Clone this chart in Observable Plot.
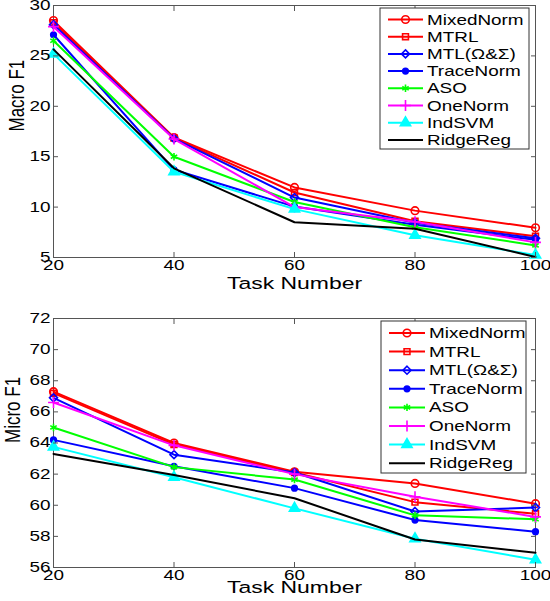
<!DOCTYPE html>
<html><head><meta charset="utf-8">
<script src="https://cdn.jsdelivr.net/npm/d3@7"></script>
<script src="https://cdn.jsdelivr.net/npm/@observablehq/plot@0.6"></script>
<style>
body{margin:0;background:#fff;}
#chart svg{display:block;}
</style></head>
<body><div id="chart"></div>
<script>
// ---- data ----
const tasks = [20, 40, 60, 80, 100];
const seriesNames = ["MixedNorm", "MTRL", "MTL(\u03A9&\u03A3)", "TraceNorm", "ASO", "OneNorm", "IndSVM", "RidgeReg"];
const seriesColors = ["#ff0000", "#ff0000", "#0000ff", "#0000ff", "#00ff00", "#ff00ff", "#00ffff", "#000000"];
const seriesSymbols = ["circle", "square", "diamond2", "circle", "asterisk", "plus", "triangle", null];
const seriesFilled = [false, false, false, true, false, false, true, false];
const seriesRadius = [3.8, 3.3, 3.6, 2.8, 3.5, 3.6, 3.8, 0];

// Macro F1
const macroMixedNorm = [28.5, 16.9, 11.95, 9.65, 7.95];
const macroMTRL      = [28.3, 16.85, 11.45, 8.6, 7.1];
const macroMTL       = [28.1, 16.8, 10.95, 8.45, 6.9];
const macroTraceNorm = [27.1, 13.7, 10.05, 8.25, 6.75];
const macroASO       = [26.5, 15.0, 10.5, 8.0, 6.2];
const macroOneNorm   = [27.9, 16.75, 10.0, 8.55, 6.5];
const macroIndSVM    = [25.2, 13.5, 9.8, 7.2, 5.25];
const macroRidgeReg  = [25.65, 13.85, 8.5, 7.85, 5.05];
const macroTicks = [5, 10, 15, 20, 25, 30];

// Micro F1
const microMixedNorm = [67.3, 64.0, 62.15, 61.4, 60.1];
const microMTRL      = [67.2, 63.9, 62.1, 60.2, 59.45];
const microMTL       = [66.9, 63.25, 62.1, 59.6, 59.85];
const microTraceNorm = [64.2, 62.5, 61.1, 59.05, 58.3];
const microASO       = [65.0, 62.45, 61.65, 59.35, 59.1];
const microOneNorm   = [66.6, 63.85, 62.0, 60.55, 59.25];
const microIndSVM    = [63.75, 61.8, 59.8, 57.85, 56.5];
const microRidgeReg  = [63.3, 61.95, 60.45, 57.8, 56.95];
const microTicks = [56, 58, 60, 62, 64, 66, 68, 70, 72];

const macroValues = [macroMixedNorm, macroMTRL, macroMTL, macroTraceNorm, macroASO, macroOneNorm, macroIndSVM, macroRidgeReg];
const microValues = [microMixedNorm, microMTRL, microMTL, microTraceNorm, microASO, microOneNorm, microIndSVM, microRidgeReg];

const FONT = "'Liberation Sans', Arial, Helvetica, sans-serif";
const STRETCH = 1.35;

function stretchText(svg, s) {
  svg.querySelectorAll("text").forEach(t => {
    const tr = t.getAttribute("transform") || "";
    const extra = /rotate\(\s*-?90/.test(tr) ? ` scale(1,${s})` : ` scale(${s},1)`;
    t.setAttribute("transform", tr + extra);
  });
}

function makeChart(cfg) {
  const rows = [];
  seriesNames.forEach((name, si) => {
    cfg.values[si].forEach((v, ti) => rows.push({series: name, idx: si, task: tasks[ti], value: v}));
  });
  const marks = [Plot.frame({stroke: "#555", strokeWidth: 1})];
  seriesNames.forEach((name, si) => {
    const d = rows.filter(r => r.idx === si);
    marks.push(Plot.line(d, {x: "task", y: "value", stroke: seriesColors[si], strokeWidth: 2}));
    if (seriesSymbols[si]) {
      marks.push(Plot.dot(d, {
        x: "task", y: "value", symbol: seriesSymbols[si], r: seriesRadius[si],
        stroke: seriesColors[si], strokeWidth: 1.6,
        fill: seriesFilled[si] ? seriesColors[si] : "none"
      }));
    }
  });
  marks.push(
    Plot.axisX({anchor: "bottom", ticks: tasks, tickSize: -5, tickPadding: 8, label: null, fontSize: 14, stroke: "#555"}),
    Plot.axisX({anchor: "top", ticks: tasks, tickSize: -5, tickFormat: () => "", label: null, stroke: "#555"}),
    Plot.axisY({anchor: "left", ticks: cfg.yTicks, tickSize: -5, tickPadding: 8, label: null, fontSize: 14, stroke: "#555"}),
    Plot.axisY({anchor: "right", ticks: cfg.yTicks, tickSize: -5, tickFormat: () => "", label: null, stroke: "#555"}),
    Plot.text([cfg.ylabel], {frameAnchor: "left", rotate: -90, dx: cfg.ylabelDx, fontSize: 17, fill: "black"}),
    Plot.text(["Task Number"], {frameAnchor: "bottom", dy: cfg.xlabelDy, fontSize: 17, fill: "black"})
  );
  return Plot.plot({
    width: 550, height: cfg.height,
    marginLeft: 53, marginRight: 15, marginTop: cfg.marginTop, marginBottom: cfg.marginBottom,
    style: {fontFamily: FONT, fontSize: "14px", color: "black", background: "white"},
    x: {domain: [20, 100]},
    y: {domain: cfg.yDomain},
    marks
  });
}

function addLegend(svg, L) {
  const g = d3.select(svg).append("g").attr("font-family", FONT).attr("font-size", 14)
    .attr("text-anchor", "start");
  g.append("rect").attr("x", L.x0).attr("y", L.y0).attr("width", L.x1 - L.x0).attr("height", L.y1 - L.y0)
    .attr("fill", "white").attr("stroke", "#333").attr("stroke-width", 1);
  const types = {circle: d3.symbolCircle, square: d3.symbolSquare, diamond2: d3.symbolDiamond2,
    asterisk: d3.symbolAsterisk, plus: d3.symbolPlus, triangle: d3.symbolTriangle};
  seriesNames.forEach((name, si) => {
    const y = L.row0 + si * L.step;
    g.append("line").attr("x1", L.lx0).attr("x2", L.lx1).attr("y1", y).attr("y2", y)
      .attr("stroke", seriesColors[si]).attr("stroke-width", 2);
    if (seriesSymbols[si]) {
      const r = seriesRadius[si];
      g.append("path").attr("d", d3.symbol(types[seriesSymbols[si]], Math.PI * r * r)())
        .attr("transform", `translate(${(L.lx0 + L.lx1) / 2},${y})`)
        .attr("stroke", seriesColors[si]).attr("stroke-width", 1.6)
        .attr("fill", seriesFilled[si] ? seriesColors[si] : "none");
    }
    g.append("text").attr("text-anchor", "start").attr("dy", "0.36em")
      .attr("transform", `translate(${L.tx},${y})`).attr("fill", "black").text(name);
  });
}

const chartTop = makeChart({values: macroValues, yDomain: [5, 30], yTicks: macroTicks, height: 300,
  marginTop: 5, marginBottom: 43, ylabel: "Macro F1", ylabelDx: -37, xlabelDy: 31});
addLegend(chartTop, {x0: 380, x1: 529, y0: 8, y1: 149, row0: 19.5, step: 17.2, lx0: 388, lx1: 423, tx: 427});
const chartBottom = makeChart({values: microValues, yDomain: [56, 72], yTicks: microTicks, height: 301,
  marginTop: 18, marginBottom: 34, ylabel: "Micro F1", ylabelDx: -41, xlabelDy: 25});
addLegend(chartBottom, {x0: 381, x1: 526, y0: 21, y1: 173, row0: 33, step: 18.6, lx0: 389, lx1: 425, tx: 429});

const root = document.getElementById("chart");
root.appendChild(chartTop);
root.appendChild(chartBottom);
stretchText(chartTop, STRETCH);
stretchText(chartBottom, STRETCH);
</script>
</body></html>
